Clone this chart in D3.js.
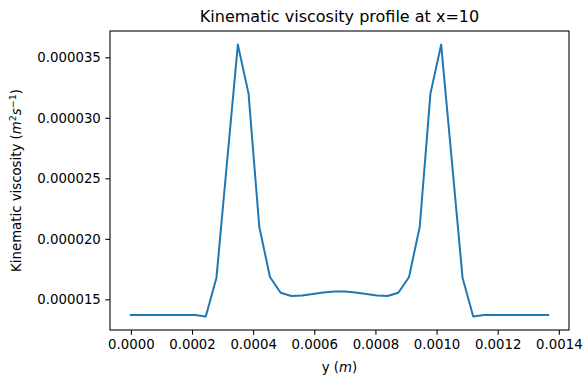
<!DOCTYPE html>
<html><head><meta charset="utf-8">
<script src="https://cdn.jsdelivr.net/npm/d3@7/dist/d3.min.js"></script>
<style>body{margin:0;background:#fff}svg{display:block}</style>
</head><body>
<script>
// ---- data ----
const yPositions = [0, 0.000035, 0.00007, 0.000105, 0.00014, 0.000175, 0.00021, 0.000245, 0.00028, 0.000315,
  0.00035, 0.000385, 0.00042, 0.000455, 0.00049, 0.000525, 0.00056, 0.000595, 0.00063, 0.000665,
  0.0007, 0.000735, 0.00077, 0.000805, 0.00084, 0.000875, 0.00091, 0.000945, 0.00098, 0.001015,
  0.00105, 0.001085, 0.00112, 0.001155, 0.00119, 0.001225, 0.00126, 0.001295, 0.00133, 0.001365];
const viscosity = [1.370e-5, 1.370e-5, 1.370e-5, 1.370e-5, 1.370e-5, 1.370e-5, 1.370e-5, 1.359e-5, 1.679e-5, 2.645e-5,
  3.605e-5, 3.200e-5, 2.100e-5, 1.685e-5, 1.555e-5, 1.527e-5, 1.531e-5, 1.544e-5, 1.556e-5, 1.565e-5,
  1.565e-5, 1.556e-5, 1.544e-5, 1.531e-5, 1.527e-5, 1.555e-5, 1.685e-5, 2.100e-5, 3.200e-5, 3.605e-5,
  2.645e-5, 1.679e-5, 1.359e-5, 1.370e-5, 1.370e-5, 1.370e-5, 1.370e-5, 1.370e-5, 1.370e-5, 1.370e-5];
const xTicks = [0, 0.0002, 0.0004, 0.0006, 0.0008, 0.0010, 0.0012, 0.0014];
const xTickLabels = ["0.0000", "0.0002", "0.0004", "0.0006", "0.0008", "0.0010", "0.0012", "0.0014"];
const yTicks = [0.000015, 0.000020, 0.000025, 0.000030, 0.000035];
const yTickLabels = ["0.000015", "0.000020", "0.000025", "0.000030", "0.000035"];
const chartTitle = "Kinematic viscosity profile at x=10";

// ---- layout ----
const W = 584, H = 380;
const L = 110, R = 569, T = 31, B = 330;
const font = "'DejaVu Sans', sans-serif";

const svg = d3.select("body").append("svg").attr("width", W).attr("height", H)
  .style("font-family", font);

const xe = d3.extent(yPositions), ye = d3.extent(viscosity);
const xp = (xe[1] - xe[0]) * 0.05, yp = (ye[1] - ye[0]) * 0.05;
const x = d3.scaleLinear().domain([xe[0] - xp, xe[1] + xp]).range([L, R]);
const y = d3.scaleLinear().domain([ye[0] - yp, ye[1] + yp]).range([B, T]);

// line
svg.append("path")
  .datum(yPositions.map((d, i) => [d, viscosity[i]]))
  .attr("fill", "none").attr("stroke", "#1f77b4").attr("stroke-width", 2)
  .attr("stroke-linejoin", "round").attr("stroke-linecap", "square")
  .attr("d", d3.line().x(d => x(d[0])).y(d => y(d[1])));

// axes
const xAxis = d3.axisBottom(x).tickValues(xTicks).tickFormat((d, i) => xTickLabels[i])
  .tickSize(4.7).tickPadding(4.5);
const yAxis = d3.axisLeft(y).tickValues(yTicks).tickFormat((d, i) => yTickLabels[i])
  .tickSize(4.7).tickPadding(4.5);

const gx = svg.append("g").attr("transform", `translate(0,${B})`).call(xAxis);
const gy = svg.append("g").attr("transform", `translate(${L},0)`).call(yAxis);
[gx, gy].forEach(g => {
  g.select(".domain").remove();
  g.selectAll(".tick line").attr("stroke", "#000").attr("stroke-width", 1.07);
  g.selectAll(".tick text").attr("fill", "#000").style("font-size", "13.3px").style("font-family", font);
});

// frame
svg.append("rect").attr("x", L).attr("y", T).attr("width", R - L).attr("height", B - T)
  .attr("fill", "none").attr("stroke", "#000").attr("stroke-width", 1.07);

// title
svg.append("text").attr("x", (L + R) / 2).attr("y", 22).attr("text-anchor", "middle")
  .style("font-size", "16px").attr("fill", "#000").text(chartTitle);

// x label
const xl = svg.append("text").attr("x", (L + R) / 2).attr("y", 372).attr("text-anchor", "middle")
  .style("font-size", "13.3px").attr("fill", "#000");
xl.append("tspan").text("y (");
xl.append("tspan").style("font-style", "italic").text("m");
xl.append("tspan").text(")");

// y label
const yl = svg.append("text").attr("transform", `translate(21,${(T + B) / 2}) rotate(-90)`)
  .attr("text-anchor", "middle").style("font-size", "13.3px").attr("fill", "#000");
yl.append("tspan").text("Kinematic viscosity (");
yl.append("tspan").style("font-style", "italic").text("m");
yl.append("tspan").attr("dy", -5).style("font-size", "9.5px").text("2");
yl.append("tspan").attr("dy", 5).style("font-style", "italic").text("s");
yl.append("tspan").attr("dy", -5).style("font-size", "9.5px").text("\u22121");
yl.append("tspan").attr("dy", 5).text(")");
</script>
</body></html>
